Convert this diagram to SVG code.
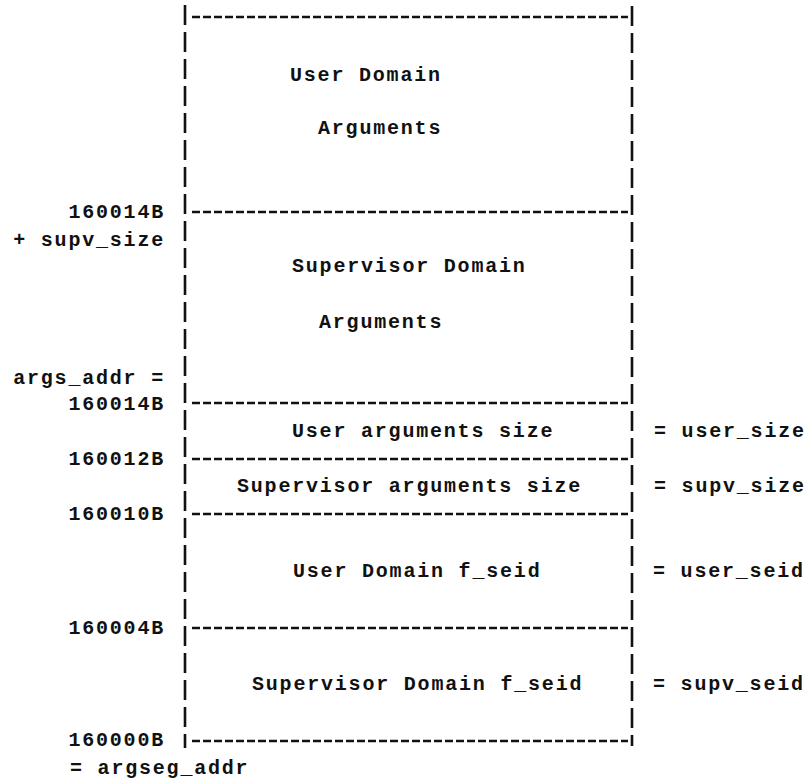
<svg xmlns="http://www.w3.org/2000/svg" width="810" height="782" viewBox="0 0 810 782">
<style>
  text { font-family: "Liberation Mono", "DejaVu Sans Mono", monospace; font-size: 20px; font-weight: bold; letter-spacing: 1.8px; fill: #111; }
  .end { text-anchor: end; }
  .h { stroke: #111; stroke-width: 2.4; stroke-dasharray: 8 3; fill: none; }
  .v { stroke: #111; stroke-width: 2.6; stroke-dasharray: 20 7; fill: none; }
</style>
<rect width="810" height="782" fill="#fff"/>
<g id="connectors">
  <line class="v" x1="185" y1="5" x2="185" y2="748"/>
  <line class="v" x1="632" y1="6" x2="632" y2="746"/>
  <line class="h" x1="192" y1="17" x2="628" y2="17"/>
  <line class="h" x1="192" y1="212" x2="628" y2="212"/>
  <line class="h" x1="192" y1="403" x2="628" y2="403"/>
  <line class="h" x1="192" y1="459" x2="628" y2="459"/>
  <line class="h" x1="192" y1="514" x2="628" y2="514"/>
  <line class="h" x1="192" y1="628" x2="628" y2="628"/>
  <line class="h" x1="192" y1="741" x2="628" y2="741"/>
</g>
<g id="user-domain-args">
  <text x="290" y="81">User Domain</text>
  <text x="318" y="134">Arguments</text>
</g>
<g id="supv-domain-args">
  <text x="292" y="272">Supervisor Domain</text>
  <text x="319" y="328">Arguments</text>
</g>
<g id="user-args-size">
  <text x="292" y="437">User arguments size</text>
  <text x="654" y="437">= user_size</text>
</g>
<g id="supv-args-size">
  <text x="237" y="492">Supervisor arguments size</text>
  <text x="654" y="492">= supv_size</text>
</g>
<g id="user-seid">
  <text x="293" y="577">User Domain f_seid</text>
  <text x="653" y="577">= user_seid</text>
</g>
<g id="supv-seid">
  <text x="252" y="690">Supervisor Domain f_seid</text>
  <text x="653" y="690">= supv_seid</text>
</g>
<g id="addresses">
  <text class="end" x="165" y="218">160014B</text>
  <text class="end" x="165" y="246">+ supv_size</text>
  <text class="end" x="165" y="384">args_addr =</text>
  <text class="end" x="165" y="410">160014B</text>
  <text class="end" x="165" y="465">160012B</text>
  <text class="end" x="165" y="520">160010B</text>
  <text class="end" x="165" y="634">160004B</text>
  <text class="end" x="165" y="746">160000B</text>
  <text x="70" y="774">= argseg_addr</text>
</g>
</svg>
